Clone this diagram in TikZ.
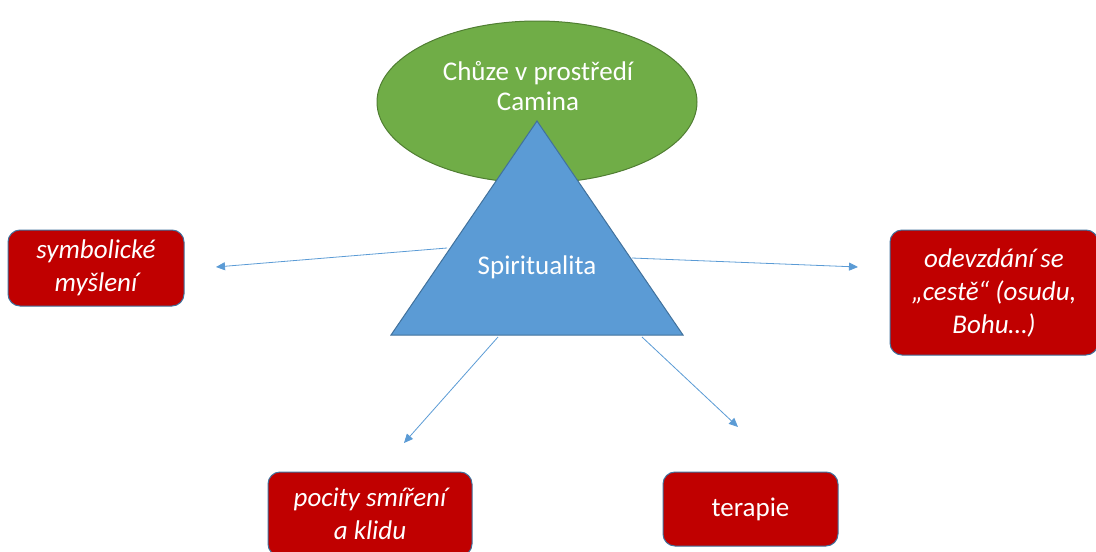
\documentclass[tikz,border=0pt]{standalone}
\usepackage{fontspec}
\setmainfont{Carlito}
\usetikzlibrary{positioning, shapes.geometric, arrows.meta}

\definecolor{caminagreen}{HTML}{70AD47}
\definecolor{caminagreenline}{HTML}{507E32}
\definecolor{spiritblue}{HTML}{5B9BD5}
\definecolor{spiritblueline}{HTML}{41719C}
\definecolor{effectred}{HTML}{C00000}

\tikzset{
  effect/.style={draw=spiritblueline, fill=effectred, text=white, rounded corners=12pt,
    align=center, inner sep=0pt, line width=1pt,
    font=\fontsize{27}{33}\selectfont\itshape},
  link/.style={draw=spiritblue, line width=0.8pt, -{Triangle[length=9pt,width=8pt]}},
}

\begin{document}
\begin{tikzpicture}[x=1pt, y=-1pt]
    \useasboundingbox (0,0) rectangle (1096,552);

    % walking on the Camino
    \node[ellipse, draw=caminagreenline, fill=caminagreen, line width=1pt,
      minimum width=320pt, minimum height=162pt] (walk) at (537,102) {};
    \node[text=white, align=center, font=\fontsize{27}{29.5}\selectfont] (walktext) at (538,86)
      {Chůze v prostředí\\Camina};

    % spirituality
    \coordinate (T1) at (537,121);
    \coordinate (T2) at (391,335);
    \coordinate (T3) at (683,335);
    \filldraw[fill=spiritblue, draw=spiritblueline, line width=1pt] (T1) -- (T2) -- (T3) -- cycle;
    \node[text=white, font=\fontsize{27}{29}\selectfont] (spirit) at (537,267) {Spiritualita};

    % effects
    \node[effect, minimum width=176pt, minimum height=76pt] (symbol) at (96,268)
      {symbolické\\myšlení};
    \node[effect, minimum width=208pt, minimum height=125pt] (surrender) at (994,292.5)
      {odevzdání se\\„cestě“ (osudu,\\Bohu…)};
    \node[effect, minimum width=204pt, minimum height=84pt] (peace) at (370,514)
      {pocity smíření\\a klidu};
    \node[effect, font=\fontsize{27}{33}\selectfont, minimum width=175pt, minimum height=74pt]
      (therapy) at (750.5,509) {terapie};

    \coordinate (s1) at (447,248);
    \coordinate (e1) at (216,267);
    \coordinate (s2) at (632,258);
    \coordinate (e2) at (858,267);
    \coordinate (s3) at (498,337);
    \coordinate (e3) at (404,443);
    \coordinate (s4) at (642,337);
    \coordinate (e4) at (738,427);
    \foreach \i in {1,2,3,4}
    {
    \draw[link] (s\i) -- (e\i);
    }
\end{tikzpicture}
\end{document}
